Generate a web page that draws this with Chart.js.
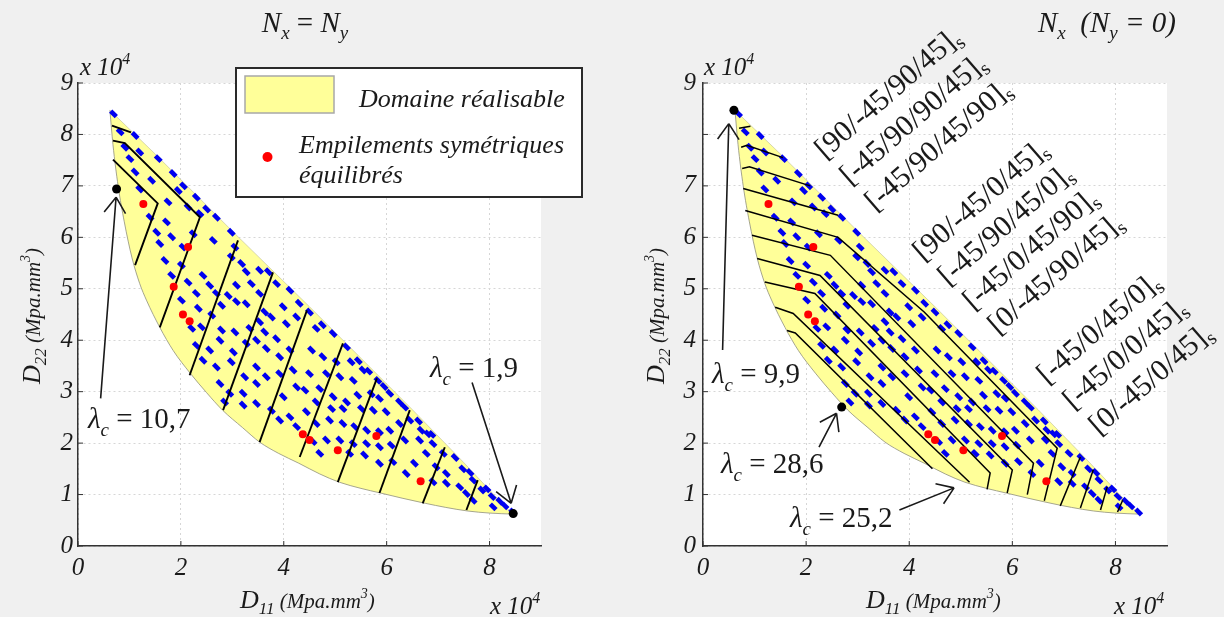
<!DOCTYPE html>
<html>
<head>
<meta charset="utf-8">
<script src="https://cdn.jsdelivr.net/npm/chart.js"></script>
<style>
    html, body { margin: 0; padding: 0; background: #f0f0f0; }
    #wrap { position: relative; width: 1224px; height: 617px; overflow: hidden; }
    canvas { position: absolute; top: 0; }
    #left { left: 0; }
    #right { left: 612px; }
</style>
</head>
<body>
<div id="wrap">
    <canvas id="left" width="612" height="617"></canvas>
    <canvas id="right" width="612" height="617"></canvas>
</div>
<script>
// axes
const xTickValues = [0, 2, 4, 6, 8]
const yTickValues = [0, 1, 2, 3, 4, 5, 6, 7, 8, 9]
const leftYLabels = ["0", "1", "2", "3", "4", "5", "6", "7", "8", "9"]
const rightYLabels = ["0", "1", "2", "3", "4", "5", "6", "7", "", "9"]

// feasible domain boundaries (D11, D22) x 10^4
const upperEdge = [[0.62, 8.47], [1.5, 7.62], [3.0, 6.12], [4.5, 4.65], [5.5, 3.65], [6.5, 2.65], [7.5, 1.62], [8.1, 0.98], [8.45, 0.62]]
const lowerEdge = [[0.62, 8.47], [0.68, 7.8], [0.78, 7.0], [0.9, 6.3], [1.05, 5.6], [1.2, 5.1], [1.33, 4.78], [1.59, 4.25],
    [1.85, 3.8], [2.18, 3.36], [2.5, 2.98], [2.81, 2.64], [3.2, 2.3], [3.53, 2.02], [3.9, 1.8], [4.29, 1.61], [4.7, 1.4],
    [5.08, 1.24], [5.5, 1.12], [5.88, 1.03], [6.3, 0.93], [6.75, 0.83], [7.15, 0.75], [7.58, 0.68], [8.0, 0.64], [8.45, 0.62]]

// stacking sequences (blue dashes)
const stackPoints = [
    [0.69, 8.40], [0.82, 8.05], [1.11, 7.98], [0.91, 7.75], [1.20, 7.66], [1.01, 7.53], [1.56, 7.53], [1.11, 7.27], [1.43, 7.11],
    [1.85, 7.24], [1.20, 6.94], [1.95, 6.91], [2.30, 6.78], [1.75, 6.69], [2.14, 6.59], [1.40, 6.39], [1.72, 6.30], [2.69, 6.39],
    [2.37, 6.46], [1.53, 6.10], [1.82, 6.01], [2.98, 6.10], [2.63, 5.94], [1.59, 5.88], [2.24, 6.07], [3.05, 5.81], [2.04, 5.81],
    [1.69, 5.55], [2.01, 5.46], [1.82, 5.26], [2.14, 5.13], [2.43, 5.26], [2.56, 5.07], [2.69, 4.91], [2.98, 5.62], [3.18, 5.49],
    [3.27, 5.33], [3.53, 5.36], [3.37, 5.10], [3.08, 5.07], [2.92, 4.87], [2.30, 4.91], [2.01, 4.78], [2.34, 4.62], [2.79, 4.68],
    [2.60, 4.49], [3.08, 4.75], [3.27, 4.71], [3.53, 4.91], [3.63, 4.55], [3.86, 5.10], [4.12, 4.97], [3.99, 4.65], [3.76, 4.45],
    [3.53, 4.36], [3.34, 4.23], [3.05, 4.16], [2.79, 4.20], [2.40, 4.26], [2.21, 4.23], [2.30, 3.90], [2.56, 3.81], [2.76, 4.00],
    [3.02, 3.77], [3.27, 3.94], [3.47, 4.00], [3.63, 4.16], [3.86, 4.03], [4.05, 4.32], [4.25, 4.45], [4.50, 4.55], [4.63, 4.23],
    [4.12, 3.81], [3.92, 3.68], [3.66, 3.84], [3.47, 3.48], [3.24, 3.29], [2.98, 3.58], [2.69, 3.48], [2.43, 3.61], [2.76, 3.16],
    [2.95, 2.97], [3.21, 2.97], [3.47, 3.16], [3.66, 3.29], [3.92, 3.35], [4.18, 3.42], [4.25, 3.09], [3.99, 2.90], [3.76, 2.64],
    [3.47, 2.77], [3.21, 2.74], [2.85, 2.80], [4.12, 2.51], [3.92, 2.45], [4.25, 2.32],
    [4.96, 4.13], [5.22, 3.87], [4.54, 3.81], [4.76, 3.68], [5.02, 3.58], [5.31, 3.58], [5.54, 3.42], [5.65, 3.40], [5.83, 3.22],
    [5.35, 3.22], [5.09, 3.29], [4.83, 3.35], [4.50, 3.35], [4.41, 3.03], [4.70, 3.06], [4.96, 2.90], [5.22, 2.80], [5.44, 2.93],
    [5.70, 2.96], [5.86, 2.87], [6.06, 2.97], [5.99, 2.61], [5.74, 2.64], [5.51, 2.67], [5.15, 2.67], [4.93, 2.67], [4.63, 2.80],
    [4.44, 2.61], [4.63, 2.38], [4.89, 2.45], [5.15, 2.38], [5.38, 2.32], [5.61, 2.25], [5.86, 2.22], [6.06, 2.25], [6.25, 2.38],
    [6.35, 2.70], [6.45, 2.45], [6.67, 2.25], [6.80, 2.18], [6.90, 1.99], [6.64, 2.06], [6.35, 2.06], [6.09, 1.96], [5.86, 1.93],
    [5.61, 1.99], [5.35, 1.99], [5.09, 2.06], [4.83, 2.06], [4.57, 2.03], [4.70, 1.80], [5.28, 1.80], [5.57, 1.77], [5.86, 1.61],
    [6.12, 1.64], [6.38, 1.41], [6.54, 1.61], [6.77, 1.80], [6.96, 1.54], [7.16, 1.41], [7.10, 1.80], [7.48, 1.50], [7.68, 1.28],
    [7.42, 1.15], [7.16, 1.22], [6.90, 1.25], [7.68, 0.89], [7.85, 1.09], [8.07, 0.76], [8.05, 0.96], [7.55, 1.02], [8.30, 0.78],
    [8.45, 0.66], [4.75, 4.30], [5.45, 3.60], [5.95, 3.10], [6.25, 2.80], [6.62, 2.43], [6.88, 2.17], [7.33, 1.72], [7.62, 1.43],
    [7.95, 1.11], [8.20, 0.87], [3.70, 5.33], [4.30, 4.72], [2.05, 7.00], [2.50, 6.55]
]

// symmetric balanced stacking sequences (red)
const balancedPoints = [[1.27, 6.65], [2.14, 5.81], [1.86, 5.04], [2.04, 4.50], [2.17, 4.37], [4.37, 2.17], [4.50, 2.06], [5.05, 1.86], [5.80, 2.14], [6.66, 1.26]]

// optima
const leftOptimum = [[0.75, 6.94], [8.46, 0.63]]
const rightOptimum = [[0.60, 8.47], [2.69, 2.70]]

// iso-lines
const leftContours = [
    [[0.66, 8.17], [1.03, 8.04]],
    [[0.68, 7.88], [0.91, 7.83], [2.37, 6.39], [1.59, 4.25]],
    [[0.68, 7.51], [1.55, 6.66], [1.11, 5.46]],
    [[3.11, 5.94], [2.17, 3.32]],
    [[3.79, 5.32], [2.82, 2.64]],
    [[4.45, 4.58], [3.53, 2.02]],
    [[5.15, 3.94], [4.31, 1.73]],
    [[5.81, 3.26], [5.05, 1.24]],
    [[6.45, 2.64], [5.86, 1.03]],
    [[7.13, 1.92], [6.70, 0.83]],
    [[7.77, 1.28], [7.55, 0.70]]
]
const rightContours = [
    [[0.70, 8.12], [0.92, 8.16]],
    [[0.74, 7.75], [0.85, 7.79], [1.55, 7.55]],
    [[0.76, 7.34], [0.90, 7.37], [2.08, 7.00]],
    [[0.78, 6.95], [2.62, 6.43]],
    [[0.82, 6.52], [2.62, 6.00], [4.29, 4.55], [6.87, 1.90], [6.62, 0.88]],
    [[0.95, 6.04], [2.47, 5.65], [6.41, 1.61], [6.29, 1.00]],
    [[1.05, 5.59], [2.27, 5.26], [6.00, 1.48], [5.90, 1.03]],
    [[1.20, 5.13], [2.17, 4.91], [5.57, 1.42], [5.51, 1.10]],
    [[1.40, 4.64], [1.75, 4.52], [5.17, 1.24]],
    [[1.63, 4.19], [1.79, 4.14], [4.45, 1.50]],
    [[7.32, 1.73], [6.93, 0.78]],
    [[7.57, 1.48], [7.32, 0.74]],
    [[7.84, 1.15], [7.71, 0.70]],
    [[8.14, 0.89], [8.04, 0.66]]
]

// annotations
const leftArrows = [{from: [0.44, 2.87], to: [0.74, 6.78]}, {from: [7.66, 3.18], to: [8.42, 0.83]}]
const rightArrows = [{from: [0.38, 3.81], to: [0.50, 8.21]}, {from: [2.25, 1.92], to: [2.59, 2.58]}, {from: [3.81, 0.70], to: [4.87, 1.13]}]
const stackLabelsTop = ["[90/-45/90/45]", "[-45/90/90/45]", "[-45/90/45/90]"]
const stackLabelsMid = ["[90/-45/0/45]", "[-45/90/45/0]", "[-45/0/45/90]", "[0/-45/90/45]"]
const stackLabelsLow = ["[-45/0/45/0]", "[-45/0/0/45]", "[0/-45/0/45]"]

const SERIF = '"Liberation Serif", "Times New Roman", serif'
const INK = "#1a1a1a"
const pts = arr => arr.map(p => ({x: p[0], y: p[1]}))

function rich(ctx, x, y, parts, opts = {}) {
    ctx.save()
    ctx.translate(x, y)
    if (opts.angle) ctx.rotate(opts.angle)
    ctx.fillStyle = INK
    ctx.textBaseline = "alphabetic"
    ctx.textAlign = "left"
    const fontOf = p => `${p[2] ? "italic " : ""}${p[1]}px ${SERIF}`
    let w = 0
    parts.forEach(p => { ctx.font = fontOf(p); w += ctx.measureText(p[0]).width })
    let cx = opts.center ? -w / 2 : 0
    parts.forEach(p => {
        ctx.font = fontOf(p)
        ctx.fillText(p[0], cx, p[3] || 0)
        cx += ctx.measureText(p[0]).width
    })
    ctx.restore()
}

function arrow(ctx, sx, sy, a) {
    const x1 = sx.getPixelForValue(a.from[0]), y1 = sy.getPixelForValue(a.from[1])
    const x2 = sx.getPixelForValue(a.to[0]), y2 = sy.getPixelForValue(a.to[1])
    const ang = Math.atan2(y2 - y1, x2 - x1)
    ctx.save()
    ctx.strokeStyle = INK
    ctx.lineWidth = 1.6
    ctx.beginPath()
    ctx.moveTo(x1, y1)
    ctx.lineTo(x2, y2)
    for (const s of [-1, 1]) {
        ctx.moveTo(x2, y2)
        ctx.lineTo(x2 - 19 * Math.cos(ang + s * 0.6), y2 - 19 * Math.sin(ang + s * 0.6))
    }
    ctx.stroke()
    ctx.restore()
}

function inwardTicks(ctx, sx, sy) {
    ctx.save()
    ctx.strokeStyle = "#333"
    ctx.lineWidth = 1
    ctx.beginPath()
    xTickValues.forEach(v => {
        const x = sx.getPixelForValue(v)
        ctx.moveTo(x, sy.bottom)
        ctx.lineTo(x, sy.bottom - 5)
    })
    yTickValues.forEach(v => {
        const y = sy.getPixelForValue(v)
        ctx.moveTo(sx.left, y)
        ctx.lineTo(sx.left + 5, y)
    })
    ctx.stroke()
    ctx.restore()
}

const lambda = value => [["λ", 29, 1], ["c", 19, 1, 8], [" = " + value, 29, 0]]
const tenPow = [["x 10", 25, 1], ["4", 16, 1, -11]]
const axisTitle = (sub) => [["D", 26, 1], [sub, 17, 1, 6], [" (Mpa.mm", 21, 1], ["3", 14, 1, -10], [")", 21, 1]]

function drawLeft(ctx, sx, sy) {
    inwardTicks(ctx, sx, sy)
    leftArrows.forEach(a => arrow(ctx, sx, sy, a))
    rich(ctx, 88, 428, lambda("10,7"))
    rich(ctx, 430, 377, lambda("1,9"))

    // legend
    ctx.save()
    ctx.fillStyle = "#ffffff"
    ctx.fillRect(236, 68, 346, 129)
    ctx.strokeStyle = "#2a2a2a"
    ctx.lineWidth = 2
    ctx.strokeRect(236, 68, 346, 129)
    ctx.fillStyle = "#ffff99"
    ctx.fillRect(245, 76, 89, 37)
    ctx.strokeStyle = "#a8a8a8"
    ctx.lineWidth = 1.5
    ctx.strokeRect(245, 76, 89, 37)
    ctx.fillStyle = "#ff0000"
    ctx.beginPath()
    ctx.arc(267.5, 157, 5, 0, Math.PI * 2)
    ctx.fill()
    ctx.restore()
    rich(ctx, 359, 107, [["Domaine réalisable", 26, 1]])
    rich(ctx, 299, 153, [["Empilements symétriques", 26, 1]])
    rich(ctx, 299, 183, [["équilibrés", 26, 1]])

    rich(ctx, 305, 32, [["N", 29, 1], ["x", 19, 1, 7], [" = ", 29, 0], ["N", 29, 1], ["y", 19, 1, 7]], {center: true})
    rich(ctx, 80, 75, tenPow)
    rich(ctx, 490, 614, tenPow)
    rich(ctx, 240, 608, axisTitle("11"))
    rich(ctx, 40, 384, axisTitle("22"), {angle: -Math.PI / 2})
}

function drawRight(ctx, sx, sy) {
    inwardTicks(ctx, sx, sy)
    rightArrows.forEach(a => arrow(ctx, sx, sy, a))
    rich(ctx, 100, 383, lambda("9,9"))
    rich(ctx, 109, 473, lambda("28,6"))
    rich(ctx, 178, 527, lambda("25,2"))

    const stack = (x, y, t) => rich(ctx, x, y, [[t, 30, 0], ["s", 20, 0, 6]], {angle: -0.716})
    stackLabelsTop.forEach((t, i) => stack(213 + i * 25, 160 + i * 26, t))
    stackLabelsMid.forEach((t, i) => stack(311 + i * 25, 262 + i * 24.5, t))
    stackLabelsLow.forEach((t, i) => stack(435 + i * 26, 385 + i * 25.5, t))

    rich(ctx, 426, 32, [["N", 29, 1], ["x", 19, 1, 7], ["  (", 29, 1], ["N", 29, 1], ["y", 19, 1, 7], [" = 0)", 29, 1]])
    rich(ctx, 92, 75, tenPow)
    rich(ctx, 502, 614, tenPow)
    rich(ctx, 254, 608, axisTitle("11"))
    rich(ctx, 52, 384, axisTitle("22"), {angle: -Math.PI / 2})
}

function makeDatasets(optimum, contours, lineWidth) {
    let sets = [
        {data: pts(upperEdge), showLine: true, fill: "+1", backgroundColor: "#ffff99",
            borderColor: "rgba(190,190,150,0.6)", borderWidth: 1, pointRadius: 0, order: 20},
        {data: pts(lowerEdge), showLine: true, fill: false, borderColor: "rgba(150,150,130,0.85)",
            borderWidth: 1, pointRadius: 0, cubicInterpolationMode: "monotone", order: 19},
        {data: pts(stackPoints), showLine: false, pointStyle: "line", pointRotation: 45, pointRadius: 4,
            pointBorderWidth: 4.6, pointBorderColor: "#0000f0", pointBackgroundColor: "#0000f0", order: 10}
    ]
    contours.forEach(c => sets.push({data: pts(c), showLine: true, borderColor: "#000", borderWidth: lineWidth, pointRadius: 0, order: 5}))
    sets.push({data: pts(balancedPoints), pointRadius: 4, pointBackgroundColor: "#ff0000", pointBorderWidth: 0, order: 2})
    sets.push({data: pts(optimum), pointRadius: 4.5, pointBackgroundColor: "#000", pointBorderWidth: 0, order: 1})
    return sets
}

function makeChart(id, optimum, contours, lineWidth, yWidth, padRight, yLabels, yPad, draw) {
    const tickFont = {family: SERIF, size: 25, style: "italic"}
    return new Chart(document.getElementById(id), {
        type: "scatter",
        data: {datasets: makeDatasets(optimum, contours, lineWidth)},
        options: {
            responsive: false,
            animation: false,
            devicePixelRatio: 1,
            events: [],
            layout: {padding: {left: 0, right: padRight, top: 83, bottom: 0}},
            plugins: {legend: {display: false}, tooltip: {enabled: false}},
            scales: {
                x: {
                    type: "linear", min: 0, max: 9,
                    afterFit: s => { s.height = 71 },
                    afterBuildTicks: s => { s.ticks = xTickValues.map(v => ({value: v})) },
                    grid: {color: "#d6d6d6", drawTicks: false},
                    border: {color: "#333", width: 1.5, dash: [2, 3]},
                    ticks: {padding: 7, color: INK, font: tickFont}
                },
                y: {
                    type: "linear", min: 0, max: 9,
                    afterFit: s => { s.width = yWidth },
                    afterBuildTicks: s => { s.ticks = yTickValues.map(v => ({value: v})) },
                    grid: {color: "#d6d6d6", drawTicks: false},
                    border: {color: "#333", width: 1.5, dash: [2, 3]},
                    ticks: {padding: yPad, color: INK, font: tickFont, callback: (v, i) => yLabels[i]}
                }
            }
        },
        plugins: [{
            id: "decor",
            beforeDraw(chart) {
                const {ctx, chartArea: a} = chart
                ctx.save()
                ctx.fillStyle = "#f0f0f0"
                ctx.fillRect(0, 0, chart.width, chart.height)
                ctx.fillStyle = "#ffffff"
                ctx.fillRect(a.left, a.top, a.right - a.left, a.bottom - a.top)
                ctx.restore()
            },
            afterDraw(chart) {
                draw(chart.ctx, chart.scales.x, chart.scales.y)
            }
        }]
    })
}

makeChart("left", leftOptimum, leftContours, 1.9, 78, 71, leftYLabels, 5, drawLeft)
makeChart("right", rightOptimum, rightContours, 1.5, 91, 57, rightYLabels, 7, drawRight)
</script>
</body>
</html>
